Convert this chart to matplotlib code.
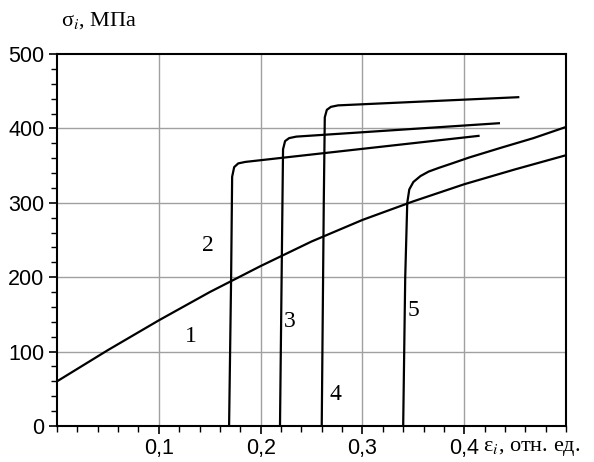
import numpy as np
import matplotlib
matplotlib.use('Agg')
import matplotlib.pyplot as plt
from matplotlib.ticker import MultipleLocator, FixedLocator

plt.rcParams['mathtext.fontset'] = 'stix'

# curve 1 (smooth, nearly linear)
x1 = [0.0, 0.05, 0.1, 0.15, 0.2, 0.25, 0.3, 0.35, 0.4, 0.45, 0.5]
y1 = [60, 102, 142, 180, 215, 248, 277, 302, 325, 345, 364]
# curve 2
x2 = [0.169, 0.171, 0.172, 0.174, 0.178, 0.185, 0.414]
y2 = [0, 200, 335, 348, 353, 355, 390]
# curve 3
x3 = [0.219, 0.221, 0.222, 0.224, 0.228, 0.235, 0.434]
y3 = [0, 250, 372, 383, 387, 389, 407]
# curve 4
x4 = [0.260, 0.262, 0.263, 0.265, 0.269, 0.276, 0.453]
y4 = [0, 300, 415, 425, 429, 431, 442]
# curve 5
x5 = [0.340, 0.342, 0.344, 0.346, 0.350, 0.357, 0.365, 0.375, 0.388, 0.405, 0.436, 0.468, 0.5]
y5 = [0, 200, 300, 318, 328, 336, 342, 347, 353, 361, 374, 387, 402]

curves = [(x1, y1), (x2, y2), (x3, y3), (x4, y4), (x5, y5)]
labels = ['1', '2', '3', '4', '5']
label_pos = [(0.131, 120), (0.148, 242), (0.229, 140), (0.273, 42), (0.350, 155)]

fig = plt.figure(figsize=(5.94, 4.62), dpi=100)
ax = fig.add_axes([0.096, 0.078, 0.857, 0.805])

for xs, ys in curves:
    ax.plot(xs, ys, color='black', lw=1.6, solid_joinstyle='round')

for lab, (lx, ly) in zip(labels, label_pos):
    ax.text(lx, ly, lab, fontsize=17, family='Liberation Serif', ha='center', va='center')

ax.set_xlim(0, 0.5)
ax.set_ylim(0, 500)

ax.xaxis.set_major_locator(FixedLocator([0.1, 0.2, 0.3, 0.4]))
ax.xaxis.set_minor_locator(MultipleLocator(0.02))
ax.yaxis.set_major_locator(MultipleLocator(100))
ax.yaxis.set_minor_locator(MultipleLocator(20))
ax.set_xticklabels(['0,1', '0,2', '0,3', '0,4'])

for t in ax.get_xticklabels() + ax.get_yticklabels():
    t.set_family('Liberation Sans')
    t.set_fontsize(15.5)

ax.tick_params(which='major', length=6, width=1.2, direction='out', pad=3)
ax.tick_params(which='minor', length=4, width=1.0, direction='out')

for gx in [0.1, 0.2, 0.3, 0.4]:
    ax.axvline(gx, color='#a0a0a0', lw=1, zorder=0)
for gy in [100, 200, 300, 400]:
    ax.axhline(gy, color='#a0a0a0', lw=1, zorder=0)

for s in ax.spines.values():
    s.set_linewidth(1.5)

fig.text(0.103, 0.955, 'σ$_i$, МПа', fontsize=16, family='Liberation Serif', ha='left', va='center')
fig.text(0.813, 0.030, 'ε$_i$, отн. ед.', fontsize=16, family='Liberation Serif', ha='left', va='center')

fig.savefig('out.png', dpi=100)
